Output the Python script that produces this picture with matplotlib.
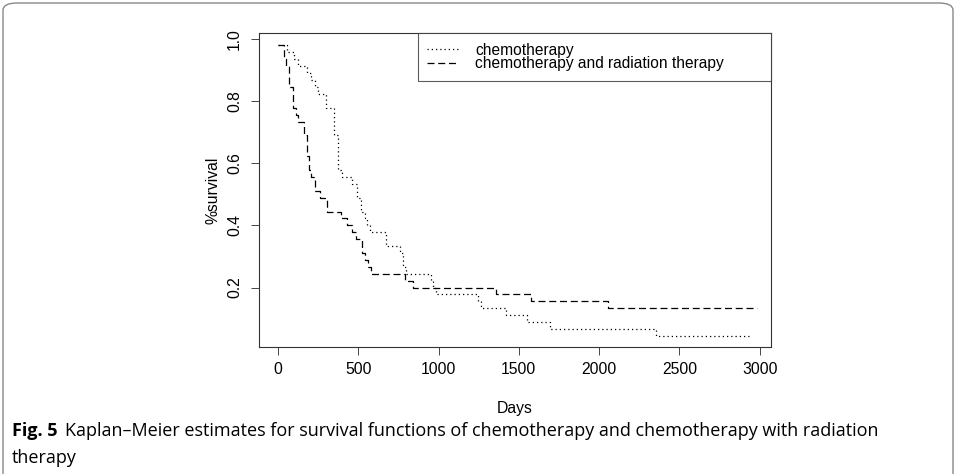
import matplotlib

matplotlib.use("Agg")
import matplotlib.pyplot as plt
from matplotlib.patches import FancyBboxPatch

plt.rcParams["font.family"] = ["Liberation Sans", "DejaVu Sans"]

# Kaplan-Meier step curves: event day and survival after that day
chemo_days = [0, 58, 100, 127, 180, 205, 228, 250, 302, 349, 375, 397, 461,
              492, 520, 542, 554, 573, 673, 760, 780, 795, 950, 965, 985,
              1245, 1264, 1420, 1549, 1694, 2354, 2950]
chemo_surv = [0.978, 0.956, 0.933, 0.911, 0.889, 0.867, 0.844, 0.822, 0.778,
              0.689, 0.578, 0.556, 0.533, 0.489, 0.444, 0.422, 0.400, 0.378,
              0.333, 0.311, 0.267, 0.244, 0.222, 0.200, 0.178, 0.156, 0.133,
              0.111, 0.089, 0.067, 0.044, 0.044]

chemorad_days = [0, 37, 50, 66, 95, 112, 125, 160, 179, 195, 205, 230, 262,
                 307, 392, 432, 461, 485, 523, 540, 562, 580, 791, 842, 1357,
                 1573, 2057, 2983]
chemorad_surv = [0.978, 0.933, 0.911, 0.844, 0.778, 0.756, 0.733, 0.689,
                 0.622, 0.578, 0.556, 0.511, 0.489, 0.444, 0.422, 0.400,
                 0.378, 0.356, 0.311, 0.289, 0.267, 0.244, 0.222, 0.200,
                 0.178, 0.156, 0.133, 0.133]

x_ticks = [0, 500, 1000, 1500, 2000, 2500, 3000]
y_ticks = [0.2, 0.4, 0.6, 0.8, 1.0]

W, H = 956, 474
fig = plt.figure(figsize=(W / 100, H / 100), dpi=100)


def fx(px):
    return px / W


def fy(py):
    return 1 - py / H


ax = fig.add_axes([fx(259.3), fy(346.7), fx(770.7) - fx(259.3), fy(33.3) - fy(346.7)])

lw = 0.9
ax.step(chemo_days, chemo_surv, where="post", color="black", lw=lw,
        linestyle=(0, (1.0, 2.4)), label="chemotherapy")
ax.step(chemorad_days, chemorad_surv, where="post", color="black", lw=lw,
        linestyle=(0, (5.6, 3.0)), label="chemotherapy and radiation therapy")

ax.set_xlim(-116, 3068)
ax.set_ylim(0.01, 1.017)
ax.set_xticks(x_ticks)
ax.set_xticklabels([str(t) for t in x_ticks])
ax.set_yticks(y_ticks)
ax.set_yticklabels([f"{t:.1f}" for t in y_ticks], rotation=90, va="center")
ax.tick_params(direction="out", length=5.8, width=0.7, labelsize=11.3,
               color="#444444")
ax.tick_params(axis="x", pad=5)
ax.tick_params(axis="y", pad=6.5)
for s in ax.spines.values():
    s.set_linewidth(0.8)
    s.set_color("#333333")

leg = ax.legend(loc="upper left", bbox_to_anchor=(0.31, 1.0, 0.69, 0.0),
                mode="expand", borderaxespad=0, fancybox=False,
                edgecolor="#333333", fontsize=11.2, handlelength=2.05,
                handletextpad=1.05, labelspacing=-0.08, borderpad=0.6)
leg.get_frame().set_linewidth(0.8)

fig.text(fx(213), fy(190), "%survival", rotation=90, ha="center", va="center",
         fontsize=11.3)
fig.text(fx(515), fy(408), "Days", ha="center", va="center", fontsize=11.3)

# caption under the plot
cap_font = ["Open Sans", "DejaVu Sans"]
t1 = fig.text(fx(12), fy(431), "Fig. 5", ha="left", va="center",
              fontsize=13, fontweight="bold", family=cap_font)
fig.canvas.draw()
bb = t1.get_window_extent()
fig.text(bb.x1 / W + fx(8), fy(431),
         "Kaplan\u2013Meier estimates for survival functions of chemotherapy "
         "and chemotherapy with radiation",
         ha="left", va="center", fontsize=13, family=cap_font)
fig.text(fx(12), fy(458), "therapy", ha="left", va="center", fontsize=13,
         family=cap_font)

frame = FancyBboxPatch((fx(3), fy(490)), fx(950), fy(3) - fy(490),
                       boxstyle="round,pad=0,rounding_size=0.015",
                       transform=fig.transFigure, fill=False,
                       edgecolor="#888888", linewidth=1.0)
fig.patches.append(frame)

fig.savefig("out.png", dpi=100)
